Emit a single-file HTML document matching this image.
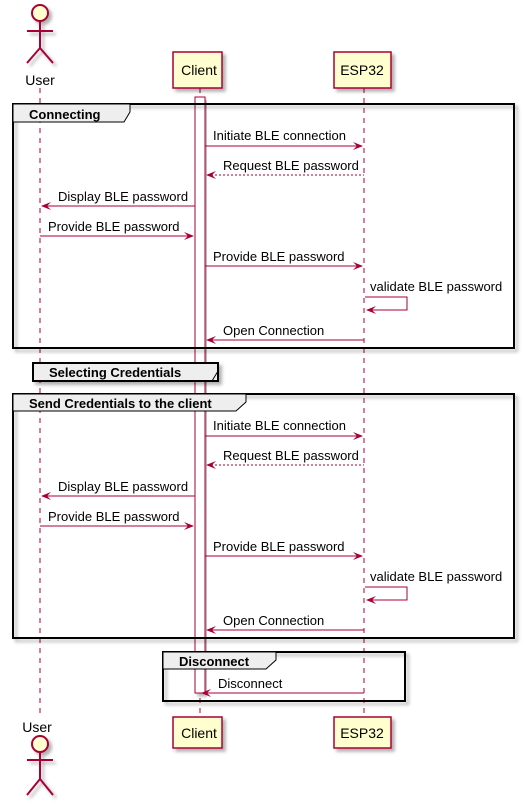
<!DOCTYPE html>
<html><head><meta charset="utf-8"><style>
body{margin:0;background:#fff}
svg{display:block;font-family:"Liberation Sans",sans-serif}
</style></head><body>
<svg width="525" height="805" viewBox="0 0 525 805" xmlns="http://www.w3.org/2000/svg">
<defs>
<filter id="sh" x="-10%" y="-10%" width="130%" height="130%"><feDropShadow dx="3" dy="3" stdDeviation="1.5" flood-color="#000" flood-opacity="0.3"/></filter>
</defs>
<g stroke="#A80036" stroke-width="1" stroke-dasharray="5,5" fill="none">
<line x1="40" y1="88" x2="40" y2="717"/>
<line x1="200" y1="88" x2="200" y2="717"/>
<line x1="364" y1="88" x2="364" y2="717"/>
</g>
<rect x="195" y="97" width="10" height="596" fill="#fff" stroke="#A80036" filter="url(#sh)"/>
<g stroke="#A80036" stroke-width="2" fill="#FEFECE" filter="url(#sh)">
<circle cx="40" cy="13" r="8"/>
<path d="M40 21V48M27 31H53M40 48L27 63M40 48L53 63" fill="none"/>
</g>
<text x="40" y="85" font-size="14" text-anchor="middle" fill="#000">User</text>
<g fill="#FEFECE" stroke="#A80036" stroke-width="1.5" filter="url(#sh)">
<rect x="173" y="52" width="49" height="36"/>
<rect x="334" y="52" width="57" height="36"/>
<rect x="173" y="717" width="49" height="31"/>
<rect x="334" y="717" width="57" height="31"/>
</g>
<g font-size="14" text-anchor="middle" fill="#000">
<text x="199" y="75">Client</text>
<text x="362" y="75">ESP32</text>
<text x="199" y="738">Client</text>
<text x="362" y="738">ESP32</text>
</g>
<text x="37" y="732" font-size="14" text-anchor="middle" fill="#000">User</text>
<g stroke="#A80036" stroke-width="2" fill="#FEFECE" filter="url(#sh)">
<circle cx="40" cy="744" r="8"/>
<path d="M40 752V779M27 760H53M40 779L27 795M40 779L53 795" fill="none"/>
</g>

<g fill="none" stroke="#000" stroke-width="2" filter="url(#sh)">
<rect x="13" y="104" width="501" height="244"/>
<rect x="33" y="363" width="185" height="18" fill="#EEEEEE"/>
<rect x="13" y="394" width="501" height="244"/>
<rect x="163" y="652" width="242" height="49"/>
</g>
<g fill="#EEEEEE" stroke="#000" stroke-width="1">
<path d="M13 104H130V112L124 122H13Z"/>
<path d="M33 363H218V371L212 381H33Z" fill="none"/>
<path d="M13 394H246V402L236 411H13Z"/>
<path d="M163 652H276V660L266 669H163Z"/>
</g>
<g font-size="13" font-weight="bold" fill="#000">
<text x="29" y="119">Connecting</text>
<text x="49" y="377">Selecting Credentials</text>
<text x="29" y="408">Send Credentials to the client</text>
<text x="179" y="666">Disconnect</text>
</g>

<g id="msgs" font-size="13" fill="#000">
<text x="213" y="140">Initiate BLE connection</text>
<text x="223" y="170">Request BLE password</text>
<text x="58" y="201">Display BLE password</text>
<text x="48" y="231">Provide BLE password</text>
<text x="213" y="261">Provide BLE password</text>
<text x="370" y="291">validate BLE password</text>
<text x="223" y="335">Open Connection</text>
</g>
<g stroke="#A80036" stroke-width="1" fill="none" id="lines">
<line x1="205" y1="146" x2="362" y2="146"/>
<line x1="207" y1="175" x2="364" y2="175" stroke-dasharray="2,2"/>
<line x1="42" y1="206" x2="195" y2="206"/>
<line x1="40" y1="236" x2="193" y2="236"/>
<line x1="205" y1="266" x2="362" y2="266"/>
<path d="M365 297H407V310H367"/>
<line x1="207" y1="340" x2="364" y2="340"/>
</g>
<g fill="#A80036" id="heads">
<path d="M363 146L353 142L357 146L353 150Z"/>
<path d="M206 175L216 171L212 175L216 179Z"/>
<path d="M41 206L51 202L47 206L51 210Z"/>
<path d="M194 236L184 232L188 236L184 240Z"/>
<path d="M363 266L353 262L357 266L353 270Z"/>
<path d="M366 310L376 306L372 310L376 314Z"/>
<path d="M206 340L216 336L212 340L216 344Z"/>
</g>
<use href="#msgs" y="290"/>
<use href="#lines" y="290"/>
<use href="#heads" y="290"/>

<text x="218" y="688" font-size="13" fill="#000">Disconnect</text>
<line x1="207" y1="693" x2="364" y2="693" stroke="#A80036"/>
<path d="M201 693L211 689L207 693L211 697Z" fill="#A80036"/>
</svg>
</body></html>
